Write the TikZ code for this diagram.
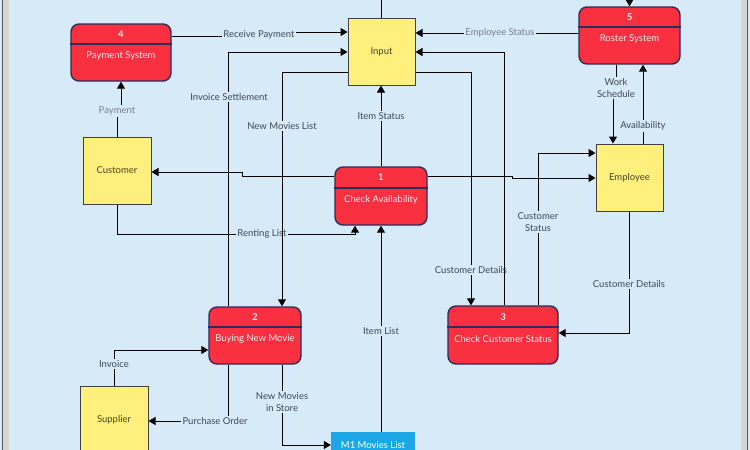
\documentclass[tikz,border=0pt]{standalone}
\usepackage{fontspec}
\setmainfont{Lato}
\usetikzlibrary{arrows.meta,positioning,calc}
\definecolor{bgblue}{HTML}{D6EAF8}
\definecolor{procred}{HTML}{F8303F}
\definecolor{procedge}{HTML}{2B2E5B}
\definecolor{entyellow}{HTML}{FFEF7D}
\definecolor{enttext}{HTML}{4A4520}
\definecolor{labgray}{HTML}{3E4953}
\definecolor{lightgray}{HTML}{76818C}
\definecolor{storeblue}{HTML}{1BA7E5}

\begin{document}
\begin{tikzpicture}[x=1pt,y=-1pt,
  font=\fontsize{9.5}{11.5}\selectfont,
  entity/.style={draw=black!75,line width=1pt,fill=entyellow,minimum width=68pt,minimum height=67pt,inner sep=0pt,text=enttext},
  process/.style={draw=procedge,line width=1.4pt,fill=procred,rounded corners=8pt,inner sep=0pt},
  sepline/.style={draw=procedge,line width=1.4pt},
  ptext/.style={text=white!92!red},
  pnum/.style={text=white!92!red,font=\fontsize{9.5}{11.5}\selectfont\bfseries},
  flow/.style={line width=1pt,-{Triangle[length=7pt,width=8pt]}},
  plain/.style={line width=1pt},
  lab/.style={fill=bgblue,inner sep=1.5pt,text=labgray,align=center},
]
\useasboundingbox (0,0) rectangle (750,450);
% frame
\fill[bgblue] (0,0) rectangle (750,450);
\fill[black!16] (3,0) rectangle (9,450);
\fill[black!16] (741,0) rectangle (747,450);
\draw[black!65,line width=1pt] (2.5,0) -- (2.5,450);
\draw[black!65,line width=1pt] (747.5,0) -- (747.5,450);

% Entities
\node[entity,minimum width=67pt] (input) at (381.5,51.5) {Input};
\node[entity] (cust) at (117,170.5) {Customer};
\node[entity,minimum width=67pt] (emp) at (629.5,177.5) {Employee};
\node[entity] (supp) at (114,420) {Supplier};

% Processes
\node[process,minimum width=100pt,minimum height=57pt] (pay) at (121,52.5) {};
\draw[sepline] (pay.west |- 0,44) -- (pay.east |- 0,44);
\node[pnum] (pay-n) at (121,34) {4};
\node[ptext] (pay-t) at (121,56) {Payment System};

\node[process,minimum width=101pt,minimum height=57pt] (roster) at (629.5,35.5) {};
\draw[sepline] (roster.west |- 0,27) -- (roster.east |- 0,27);
\node[pnum] (roster-n) at (629.5,17) {5};
\node[ptext] (roster-t) at (629.5,39) {Roster System};

\node[process,minimum width=92pt,minimum height=58pt] (avail) at (381,196) {};
\draw[sepline] (avail.west |- 0,188) -- (avail.east |- 0,188);
\node[pnum] (avail-n) at (381,177) {1};
\node[ptext] (avail-t) at (381,199.5) {Check Availability};

\node[process,minimum width=92pt,minimum height=57pt] (buy) at (255,335.5) {};
\draw[sepline] (buy.west |- 0,327) -- (buy.east |- 0,327);
\node[pnum] (buy-n) at (255,317) {2};
\node[ptext] (buy-t) at (255,339) {Buying New Movie};

\node[process,minimum width=110pt,minimum height=58pt] (check) at (503,335) {};
\draw[sepline] (check.west |- 0,327) -- (check.east |- 0,327);
\node[pnum] (check-n) at (503,317) {3};
\node[ptext] (check-t) at (503,339) {Check Customer Status};

% Data store
\node[fill=storeblue,minimum width=84pt,minimum height=26pt,inner sep=0pt,text=white] (store) at (373,445) {M1 Movies List};

% Flows
\draw[plain] (input.north) -- (input.north |- 0,-2);
\draw[flow] (roster.north |- 0,-3) -- (roster.north);
\draw[flow] (pay.east |- 0,36) -- (259,36) |- (input.west |- 0,32);
\draw[flow] (buy.north -| 228,0) |- (input.west |- 0,52);
\draw[flow] (avail.north) -- (input.south -| avail.north);
\draw[flow] (roster.west |- 0,33) -- (input.east |- 0,33);
\draw[flow] (input.east |- 0,72) -| (check.north -| 471,0);
\draw[flow] (check.north -| 538,0) |- (emp.west |- 0,153);
\draw[flow] (avail.west |- 0,176) -- (242,176) |- (cust.east |- 0,172);
\draw[flow] (avail.east |- 0,176) -- (512,176) |- (emp.west |- 0,178);
\draw[flow] (cust.south) |- (355,234) -- (avail.south -| 355,0);
\draw[flow] (store.north -| avail.south) -- (avail.south);
\draw[flow] (cust.north) -- (117,111) -| (pay.south);
\draw[flow] (roster.south -| 616,0) -- (616,88) -| (emp.north -| 613,0);
\draw[flow] (emp.north -| 643,0) -- (roster.south -| 643,0);
\draw[flow] (emp.south) |- (check.east |- 0,333);
\draw[flow] (supp.north) |- (buy.west |- 0,350);
\draw[flow] (buy.south -| 228,0) |- (supp.east |- 0,421);
\draw[flow] (buy.south -| 282,0) |- (store.west |- 0,445);

% Labels
\node[lab] (l-receive) at (259,35) {Receive Payment};
\node[lab] (l-settle) at (229,97) {Invoice Settlement};
\node[lab] (l-itemstat) at (381,116) {Item Status};
\node[lab,text=lightgray] (l-empstat) at (500,33) {Employee Status};
\node[lab] (l-custdet) at (471,270) {Customer Details};
\node[lab] (l-custstat) at (538,222) {Customer\\Status};
\node[lab] (l-renting) at (262,234) {Renting List};
\node[lab] (l-itemlist) at (381,331) {Item List};
\node[lab,text=lightgray] (l-payment) at (117,111) {Payment};
\node[lab] (l-work) at (616,88) {Work\\Schedule};
\node[lab] (l-availab) at (643,126) {Availability};
\node[lab] (l-custdet2) at (629,284) {Customer Details};
\node[lab] (l-invoice) at (114,364) {Invoice};
\node[lab] (l-purchase) at (215,421) {Purchase Order};
\node[lab] (l-instore) at (282,402) {New Movies\\in Store};

% these two run over the labels they cross
\draw[flow] (input.west |- 0,72) -| (buy.north -| 282,0);
\draw[flow] (check.north -| 504,0) |- (input.east |- 0,52);
\node[lab] (l-newlist) at (282,126) {New Movies List};
\end{tikzpicture}
\end{document}
